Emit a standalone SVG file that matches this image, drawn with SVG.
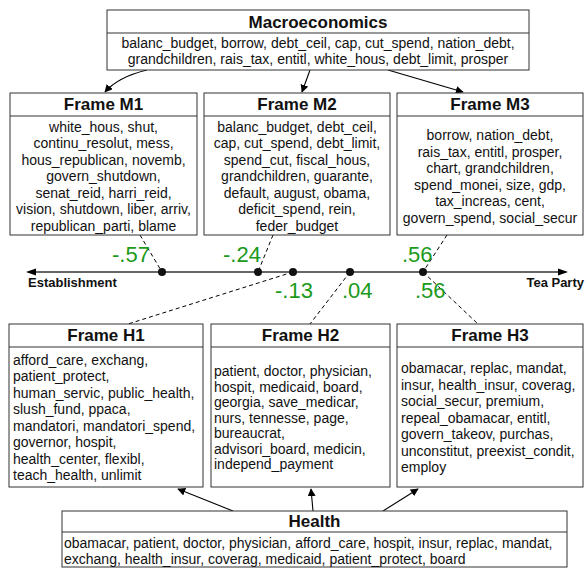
<svg xmlns="http://www.w3.org/2000/svg" width="585" height="568" viewBox="0 0 585 568">
<defs>
<marker id="arr" viewBox="0 0 10 10" refX="9" refY="5" markerWidth="8" markerHeight="8" markerUnits="userSpaceOnUse" orient="auto"><path d="M0,0 L10,5 L0,10 z" fill="#000"/></marker>
<marker id="arrAxis" viewBox="0 0 10 10" refX="9" refY="5" markerWidth="10" markerHeight="8" markerUnits="userSpaceOnUse" orient="auto"><path d="M0,1 L10,5 L0,9 z" fill="#000"/></marker>
<style>
.box{fill:#fff;stroke:#333;stroke-width:1}
.ttl{font-family:"Liberation Sans",Arial,sans-serif;font-size:17px;font-weight:bold;fill:#111;text-anchor:middle}
.bd{font-family:"Liberation Sans",Arial,sans-serif;font-size:14px;fill:#111}
.c{text-anchor:middle}
.num{font-family:"Liberation Sans",Arial,sans-serif;font-size:22px;fill:#1b9a1b}
.ax{font-family:"Liberation Sans",Arial,sans-serif;font-size:13px;font-weight:bold;fill:#111}
.dash{stroke:#000;stroke-width:1;stroke-dasharray:4,3;fill:none}
.con{stroke:#000;stroke-width:1.1;fill:none;marker-end:url(#arr)}
</style>
</defs>
<rect width="585" height="568" fill="#fff"/>

<g id="connectors">
<path class="con" d="M147,70 Q118,77 105,92"/>
<path class="con" d="M310,70 L302,92"/>
<path class="con" d="M388,70 L463,92"/>
<path class="con" d="M233,511 L178,489"/>
<path class="con" d="M313,511 L311,489"/>
<path class="con" d="M383,511 L418,489"/>
<line class="dash" x1="140" y1="235" x2="162" y2="272"/>
<line class="dash" x1="273" y1="235" x2="258" y2="272"/>
<line class="dash" x1="447" y1="235" x2="423" y2="272"/>
<line class="dash" x1="293" y1="272" x2="128" y2="324"/>
<line class="dash" x1="350" y1="272" x2="310" y2="324"/>
<line class="dash" x1="423" y1="272" x2="478" y2="324"/>
</g>

<g id="axis">
<line x1="28" y1="272" x2="566" y2="272" stroke="#333" stroke-width="1.3"/>
<path d="M26,272 L36,268.5 L36,275.5 z" fill="#000"/>
<path d="M568,272 L558,268.5 L558,275.5 z" fill="#000"/>
<circle cx="162" cy="272" r="4" fill="#111"/>
<circle cx="258" cy="272" r="4" fill="#111"/>
<circle cx="293" cy="272" r="4" fill="#111"/>
<circle cx="350" cy="272" r="4" fill="#111"/>
<circle cx="423" cy="272" r="4" fill="#111"/>
<text class="ax" x="28" y="287">Establishment</text>
<text class="ax" x="584" y="287" text-anchor="end">Tea Party</text>
<text class="num" x="112" y="262">-.57</text>
<text class="num" x="223" y="262">-.24</text>
<text class="num" x="402" y="262">.56</text>
<text class="num" x="275" y="298">-.13</text>
<text class="num" x="342" y="298">.04</text>
<text class="num" x="415" y="298">.56</text>
</g>

<g id="macro">
<rect class="box" x="107" y="10" width="422" height="60"/>
<line x1="107" y1="33" x2="529" y2="33" stroke="#333"/>
<text class="ttl" x="318" y="28">Macroeconomics</text>
<text class="bd c" x="318" y="48">balanc_budget, borrow, debt_ceil, cap, cut_spend, nation_debt,</text>
<text class="bd c" x="318" y="64">grandchildren, rais_tax, entitl, white_hous, debt_limit, prosper</text>
</g>

<g id="frameM1">
<rect class="box" x="10" y="93" width="187" height="142"/>
<line x1="10" y1="116" x2="197" y2="116" stroke="#333"/>
<text class="ttl" x="103.5" y="110">Frame M1</text>
<text class="bd c" x="103.5" y="131.5">white_hous, shut,</text>
<text class="bd c" x="103.5" y="148">continu_resolut, mess,</text>
<text class="bd c" x="103.5" y="164.5">hous_republican, novemb,</text>
<text class="bd c" x="103.5" y="181">govern_shutdown,</text>
<text class="bd c" x="103.5" y="197.5">senat_reid, harri_reid,</text>
<text class="bd c" x="103.5" y="214">vision, shutdown, liber, arriv,</text>
<text class="bd c" x="103.5" y="230.5">republican_parti, blame</text>
</g>

<g id="frameM2">
<rect class="box" x="204" y="93" width="186" height="142"/>
<line x1="204" y1="116" x2="390" y2="116" stroke="#333"/>
<text class="ttl" x="297" y="110">Frame M2</text>
<text class="bd c" x="297" y="131.5">balanc_budget, debt_ceil,</text>
<text class="bd c" x="297" y="148">cap, cut_spend, debt_limit,</text>
<text class="bd c" x="297" y="164.5">spend_cut, fiscal_hous,</text>
<text class="bd c" x="297" y="181">grandchildren, guarante,</text>
<text class="bd c" x="297" y="197.5">default, august, obama,</text>
<text class="bd c" x="297" y="214">deficit_spend, rein,</text>
<text class="bd c" x="297" y="230.5">feder_budget</text>
</g>

<g id="frameM3">
<rect class="box" x="397" y="93" width="186" height="142"/>
<line x1="397" y1="116" x2="583" y2="116" stroke="#333"/>
<text class="ttl" x="490" y="110">Frame M3</text>
<text class="bd c" x="490" y="140">borrow, nation_debt,</text>
<text class="bd c" x="490" y="156.5">rais_tax, entitl, prosper,</text>
<text class="bd c" x="490" y="173">chart, grandchildren,</text>
<text class="bd c" x="490" y="189.5">spend_monei, size, gdp,</text>
<text class="bd c" x="490" y="206">tax_increas, cent,</text>
<text class="bd c" x="490" y="222.5">govern_spend, social_secur</text>
</g>

<g id="frameH1">
<rect class="box" x="9" y="324" width="194" height="163"/>
<line x1="9" y1="347" x2="203" y2="347" stroke="#333"/>
<text class="ttl" x="106" y="341">Frame H1</text>
<text class="bd" x="13" y="364.5">afford_care, exchang,</text>
<text class="bd" x="13" y="381">patient_protect,</text>
<text class="bd" x="13" y="397.5">human_servic, public_health,</text>
<text class="bd" x="13" y="414">slush_fund, ppaca,</text>
<text class="bd" x="13" y="430.5">mandatori, mandatori_spend,</text>
<text class="bd" x="13" y="447">governor, hospit,</text>
<text class="bd" x="13" y="463.5">health_center, flexibl,</text>
<text class="bd" x="13" y="480">teach_health, unlimit</text>
</g>

<g id="frameH2">
<rect class="box" x="211" y="324" width="179" height="163"/>
<line x1="211" y1="347" x2="390" y2="347" stroke="#333"/>
<text class="ttl" x="300.5" y="341">Frame H2</text>
<text class="bd" x="214" y="376">patient, doctor, physician,</text>
<text class="bd" x="214" y="391.5">hospit, medicaid, board,</text>
<text class="bd" x="214" y="407">georgia, save_medicar,</text>
<text class="bd" x="214" y="422.5">nurs, tennesse, page,</text>
<text class="bd" x="214" y="438">bureaucrat,</text>
<text class="bd" x="214" y="453.5">advisori_board, medicin,</text>
<text class="bd" x="214" y="469">independ_payment</text>
</g>

<g id="frameH3">
<rect class="box" x="397" y="324" width="186" height="163"/>
<line x1="397" y1="347" x2="583" y2="347" stroke="#333"/>
<text class="ttl" x="490" y="341">Frame H3</text>
<text class="bd" x="401" y="373">obamacar, replac, mandat,</text>
<text class="bd" x="401" y="389.5">insur, health_insur, coverag,</text>
<text class="bd" x="401" y="406">social_secur, premium,</text>
<text class="bd" x="401" y="422.5">repeal_obamacar, entitl,</text>
<text class="bd" x="401" y="439">govern_takeov, purchas,</text>
<text class="bd" x="401" y="455.5">unconstitut, preexist_condit,</text>
<text class="bd" x="401" y="472">employ</text>
</g>

<g id="health">
<rect class="box" x="62" y="511" width="505" height="56"/>
<line x1="62" y1="532" x2="567" y2="532" stroke="#333"/>
<text class="ttl" x="314.5" y="527">Health</text>
<text class="bd" x="64" y="548">obamacar, patient, doctor, physician, afford_care, hospit, insur, replac, mandat,</text>
<text class="bd" x="64" y="564">exchang, health_insur, coverag, medicaid, patient_protect, board</text>
</g>
</svg>
